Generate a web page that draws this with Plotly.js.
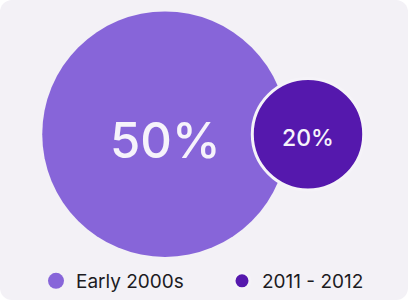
<!DOCTYPE html>
<html><head><meta charset="utf-8">
<script src="https://cdn.plot.ly/plotly-3.0.1.min.js"></script>
<style>
html,body{margin:0;padding:0;background:#ffffff;}
#wrap{width:408px;height:300px;border-radius:12px;overflow:hidden;background:#f3f1f6;}
#chart{width:408px;height:300px;}
</style></head>
<body><div id="wrap"><div id="chart"></div></div>
<script>
const categories = ["Early 2000s", "2011 - 2012"];
const values = [50, 20];
const colors = ["#8765d9", "#5518ad"];
const labels = values.map(v => v + "%");

function diam(v){ return 22 + 4.47*v; }

const traces = categories.map((c, i) => ({
  type: "scatter",
  mode: "markers",
  name: c,
  x: [i],
  y: [0],
  marker: {
    size: [diam(values[i])],
    sizemode: "diameter",
    color: colors[i],
    opacity: 1,
    line: {width: i === 0 ? 0 : 3, color: "#f5f3f8"}
  },
  hoverinfo: "skip",
  cliponaxis: false
}));

const annotations = categories.map((c, i) => ({
  x: i, y: 0, xref: "x", yref: "y",
  text: labels[i],
  showarrow: false,
  xanchor: "center", yanchor: "middle",
  yshift: i === 0 ? -6 : -4,
  font: {family: "Inter, Roboto, sans-serif", size: i === 0 ? 49 : 23, color: "#f6f3fb", weight: 500}
}));

const layout = {
  width: 408, height: 300,
  margin: {l: 0, r: 0, t: 0, b: 0},
  paper_bgcolor: "rgba(0,0,0,0)",
  plot_bgcolor: "rgba(0,0,0,0)",
  xaxis: {range: [-165/143, 243/143], visible: false, fixedrange: true},
  yaxis: {range: [-164, 136], visible: false, fixedrange: true},
  annotations: annotations,
  showlegend: true,
  legend: {
    orientation: "h",
    x: 47/408, xanchor: "left",
    y: 15/300, yanchor: "middle",
    font: {family: "Inter, Roboto, sans-serif", size: 19, color: "#1c1b1f"},
    bgcolor: "rgba(0,0,0,0)",
    entrywidth: 141, entrywidthmode: "pixels",
    itemclick: false, itemdoubleclick: false
  }
};

Plotly.newPlot("chart", traces, layout, {displayModeBar: false, staticPlot: true});
</script></body></html>
